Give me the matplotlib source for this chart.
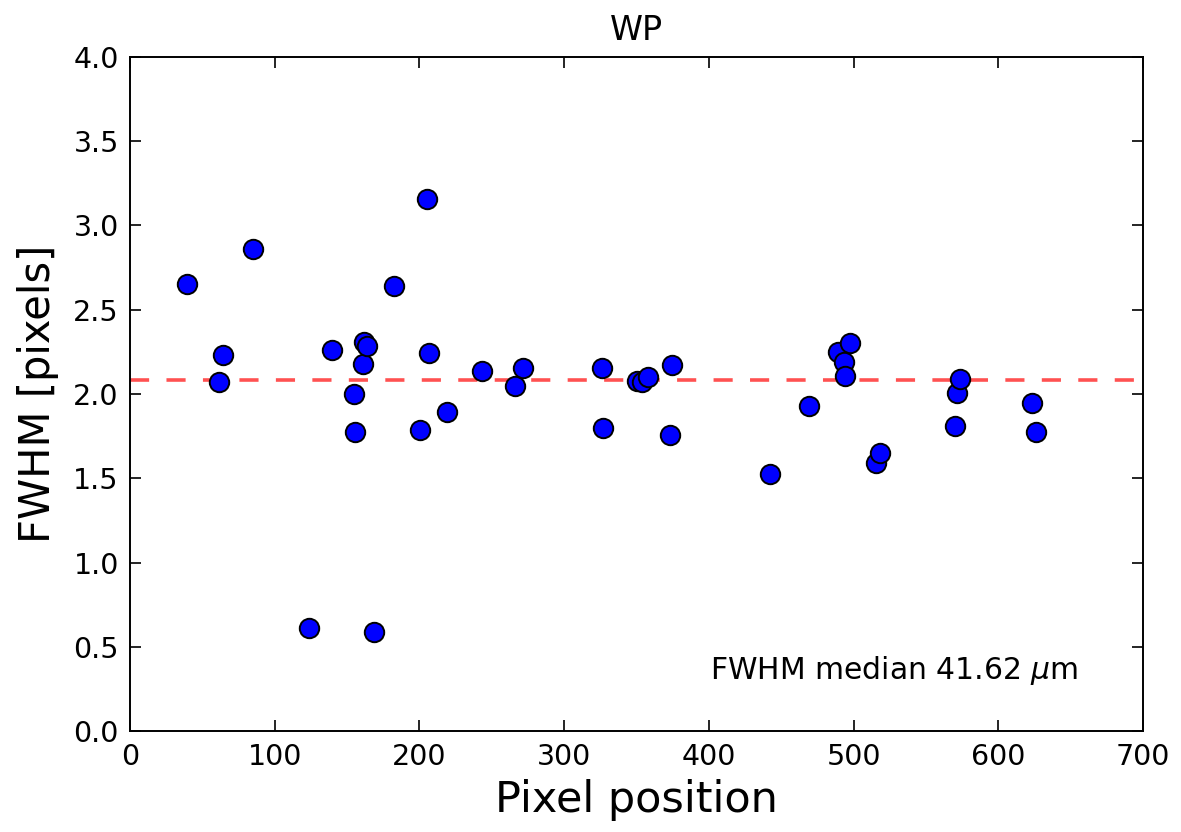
import matplotlib
matplotlib.use("Agg")
import matplotlib.pyplot as plt

pixel_pos = [39.6, 61.5, 64.3, 85.3, 123.8, 139.5, 155.0, 155.4, 160.9, 161.4,
             164.1, 168.7, 182.1, 200.3, 205.4, 206.8, 218.8, 243.0, 266.0, 271.4,
             326.0, 326.5, 350.5, 353.5, 358.0, 374.5, 373.0, 441.9, 468.9, 489.2,
             493.3, 494.0, 497.5, 515.4, 518.2, 570.1, 571.2, 573.3, 623.1, 625.9]
fwhm = [2.65, 2.069, 2.231, 2.857, 0.611, 2.261, 2.0, 1.777, 2.176, 2.306,
        2.286, 0.588, 2.642, 1.787, 3.156, 2.241, 1.895, 2.136, 2.049, 2.156,
        2.154, 1.80, 2.075, 2.07, 2.103, 2.174, 1.757, 1.524, 1.927, 2.247,
        2.19, 2.107, 2.30, 1.593, 1.649, 1.812, 2.008, 2.091, 1.949, 1.773]
median_fwhm = 2.083
title = "WP"
annotation = r"FWHM median 41.62 $\mu$m"
xticks = [0, 100, 200, 300, 400, 500, 600, 700]
yticks = [0.0, 0.5, 1.0, 1.5, 2.0, 2.5, 3.0, 3.5, 4.0]

fig = plt.figure(figsize=(11.81, 8.32), dpi=100)
ax = fig.add_axes([0.110, 0.1208, 0.858, 0.8112])

ax.plot(pixel_pos, fwhm, linestyle="none", marker="o", markersize=14,
        markerfacecolor="#0000ff", markeredgecolor="black", markeredgewidth=1.4,
        zorder=3)
ax.axhline(median_fwhm, color="#ff3333", alpha=0.85, lw=2.6, dashes=(5.3, 4.8), zorder=2)

ax.set_xlim(0, 700)
ax.set_ylim(0, 4)
ax.set_xticks(xticks)
ax.set_yticks(yticks)
ax.set_xticklabels([str(t) for t in xticks])
ax.set_yticklabels([f"{t:.1f}" for t in yticks])
ax.tick_params(direction="in", length=8, width=1.2, top=True, right=True,
               labelsize=20.5, pad=8, colors="black")
for s in ax.spines.values():
    s.set_linewidth(1.4)

ax.set_xlabel("Pixel position", fontsize=31, labelpad=6)
ax.set_ylabel("FWHM [pixels]", fontsize=30, labelpad=10)
ax.set_title(title, fontsize=24, pad=12)
ax.text(401, 0.31, annotation, fontsize=21.5, ha="left", va="baseline")

fig.savefig("out.png", dpi=100)
